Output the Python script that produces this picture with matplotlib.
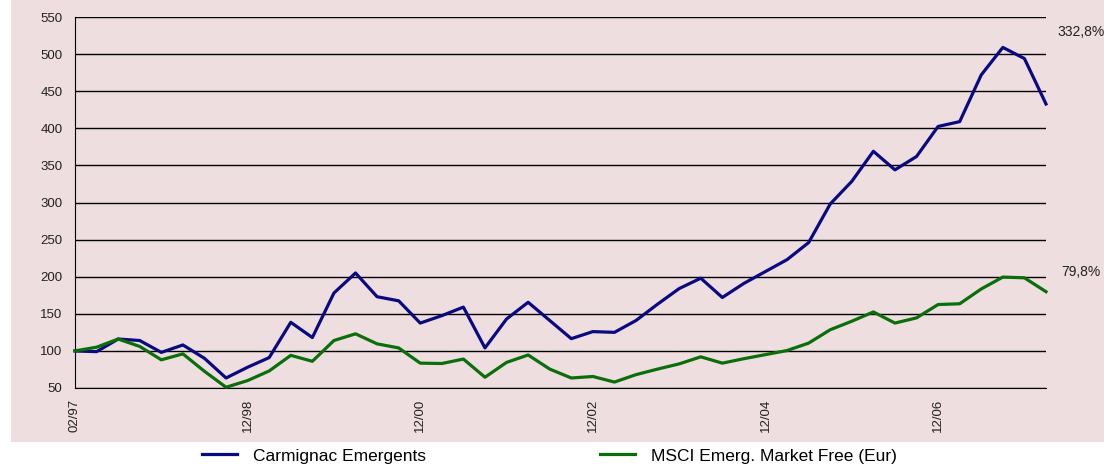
import matplotlib.pyplot as plt
from matplotlib.lines import Line2D
from matplotlib.patches import Rectangle

plt.rcParams['font.family'] = ['Liberation Sans', 'DejaVu Sans']

# Quarterly values, base 100 at 02/97
carmignac = [100, 99, 116, 114, 98, 108, 90, 63.5, 78, 91, 138.5, 118, 178, 205,
             173, 167.5, 137.5, 147.5, 159, 104, 143, 165.5, 141, 116.5, 126, 125,
             141, 163, 184, 198, 172, 191, 207, 223, 246, 298, 328.5, 369, 344, 362,
             402.5, 409, 472, 509, 494, 432.8]
msci = [100, 105, 116, 106, 88, 96, 72.5, 51, 60, 73, 94, 86, 114, 123,
        109.5, 104, 83.5, 83, 89, 64.5, 84.5, 94.5, 75.5, 63.5, 65.5, 58,
        68, 75.5, 82.5, 92, 83.5, 89.5, 95, 100.5, 110.5, 128.5, 140, 152.5, 137.5, 144.5,
        162.5, 163.5, 183.5, 199.5, 198.5, 179.8]
tick_labels = ['02/97', '12/98', '12/00', '12/02', '12/04', '12/06']
tick_every = 8
series_names = ['Carmignac Emergents', 'MSCI Emerg. Market Free (Eur)']
end_labels = ['332,8%', '79,8%']

blue = '#0a0a80'
green = '#0a6e0a'
pink = '#efdedf'

fig = plt.figure(figsize=(11.04, 4.68), dpi=100)
fig.patches.append(Rectangle((11 / 1104, 26 / 468), 1, 1, transform=fig.transFigure,
                             facecolor=pink, edgecolor='none', zorder=-10))

ax = fig.add_axes([75 / 1104, 80 / 468, 971 / 1104, 371 / 468])
ax.set_facecolor('none')

x = list(range(len(carmignac)))
ax.plot(x, carmignac, color=blue, lw=2.3, zorder=3, clip_on=False)
ax.plot(x, msci, color=green, lw=2.3, zorder=3, clip_on=False)

ax.set_xlim(0, len(carmignac) - 1)
ax.set_ylim(50, 550)
ax.set_yticks(range(50, 551, 50))
ax.set_xticks(range(0, len(tick_labels) * tick_every, tick_every))
ax.set_xticklabels(tick_labels, rotation=90)

ax.yaxis.grid(True, color='black', lw=1.0)
ax.set_axisbelow(True)
for s in ['top', 'right']:
    ax.spines[s].set_visible(False)
ax.spines['left'].set_color('black')
ax.spines['bottom'].set_color('black')
ax.tick_params(axis='both', length=0, labelsize=9.5, colors='#222222')
ax.tick_params(axis='y', pad=9)
ax.tick_params(axis='x', pad=8)

# final performance labels on the right
ax.text(1.0113, 0.9596, end_labels[0], transform=ax.transAxes, fontsize=10,
        va='center', ha='left', color='#222222')
ax.text(1.0154, 0.3127, end_labels[1], transform=ax.transAxes, fontsize=10,
        va='center', ha='left', color='#222222')

handles = [Line2D([], [], color=blue, lw=2.3), Line2D([], [], color=green, lw=2.3)]
fig.legend(handles, series_names, loc='center left', ncol=2, frameon=False,
           bbox_to_anchor=(202 / 1104, 1 - 456 / 468), fontsize=12.5,
           handlelength=2.0, handletextpad=0.95, columnspacing=10.0,
           borderpad=0, borderaxespad=0)

fig.savefig('out.png', dpi=100)
